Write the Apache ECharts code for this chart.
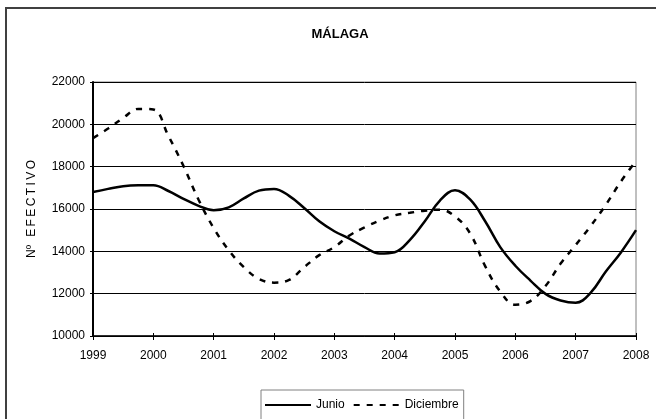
<!DOCTYPE html>
<html>
<head>
<meta charset="utf-8">
<script src="https://cdn.jsdelivr.net/npm/echarts@6/dist/echarts.min.js"></script>
<style>
  html, body { margin: 0; padding: 0; background: #ffffff; }
  #chart { width: 656px; height: 419px; }
</style>
</head>
<body>
<div id="chart"></div>
<script>
// Quarterly sample positions (years)
const periods = [
  1999, 1999.25, 1999.5, 1999.75,
  2000, 2000.25, 2000.5, 2000.75,
  2001, 2001.25, 2001.5, 2001.75,
  2002, 2002.25, 2002.5, 2002.75,
  2003, 2003.25, 2003.5, 2003.75,
  2004, 2004.25, 2004.5, 2004.75,
  2005, 2005.25, 2005.5, 2005.75,
  2006, 2006.25, 2006.5, 2006.75,
  2007, 2007.25, 2007.5, 2007.75,
  2008
];

// Nº efectivo, Junio
const junio = [
  16800, 16950, 17080, 17120,
  17120, 16850, 16480, 16150,
  15940, 16080, 16500, 16870,
  16950, 16620, 16050, 15420,
  14950, 14600, 14200, 13900,
  13960, 14530, 15420, 16400,
  16880, 16450, 15420, 14200,
  13320, 12620, 11990, 11680,
  11570, 12050, 13050, 13950,
  15000
];

// Nº efectivo, Diciembre
const diciembre = [
  19350, 19800, 20300, 20730,
  20700, 19450, 18030, 16440,
  15100, 14050, 13250, 12700,
  12520, 12650, 13250, 13820,
  14200, 14750, 15130, 15450,
  15700, 15820, 15920, 15970,
  15650, 14850, 13300, 12100,
  11480, 11650, 12360, 13420,
  14300, 15200, 16200, 17300,
  18270
];

const yearTicks = [1999, 2000, 2001, 2002, 2003, 2004, 2005, 2006, 2007, 2008];
const valueTicks = [10000, 12000, 14000, 16000, 18000, 20000, 22000];

const font = 'Liberation Sans, Arial, sans-serif';
const pair = (xs, ys) => xs.map((x, i) => [x, ys[i]]);
// spread the letters of the axis title a little
const spaced = s => Array.from(s).join('\u2009');

const chart = echarts.init(document.getElementById('chart'), null, { renderer: 'canvas' });

chart.setOption({
  animation: false,
  backgroundColor: '#ffffff',
  textStyle: { fontFamily: font, color: '#000000' },
  title: {
    text: 'MÁLAGA',
    left: 335,
    textAlign: 'center',
    top: 23,
    textStyle: { fontFamily: font, fontSize: 13, fontWeight: 'bold', color: '#000000' }
  },
  graphic: [{
    type: 'rect',
    silent: true,
    z: -1,
    shape: { x: 6, y: 8, width: 700, height: 500 },
    style: { fill: null, stroke: '#404040', lineWidth: 2 }
  }],
  legend: {
    left: 261,
    top: 390,
    itemWidth: 46,
    itemHeight: 14,
    itemGap: 8,
    padding: [9, 5, 9, 3],
    borderColor: '#808080',
    borderWidth: 1,
    itemStyle: { opacity: 0 },
    textStyle: { fontFamily: font, fontSize: 12, color: '#000000' },
    data: ['Junio', 'Diciembre']
  },
  grid: {
    left: 93, right: 20, top: 82, bottom: 83,
    show: true,
    borderColor: '#808080',
    borderWidth: 1,
    backgroundColor: 'transparent'
  },
  xAxis: [{
    type: 'value',
    min: yearTicks[0],
    max: yearTicks[yearTicks.length - 1],
    interval: 1,
    axisLine: { show: true, lineStyle: { color: '#000000', width: 1.5 } },
    axisTick: { show: true, inside: false, length: 4, lineStyle: { color: '#000000' } },
    axisLabel: {
      margin: 14, fontFamily: font, fontSize: 12, color: '#000000',
      formatter: v => String(v)
    },
    splitLine: { show: false }
  }, {
    // upward tick marks along the bottom axis
    type: 'value',
    position: 'top',
    offset: -254,
    min: yearTicks[0],
    max: yearTicks[yearTicks.length - 1],
    interval: 1,
    axisLine: { show: false },
    axisTick: { show: true, inside: false, length: 3, lineStyle: { color: '#000000' } },
    axisLabel: { show: false },
    splitLine: { show: false }
  }],
  yAxis: {
    type: 'value',
    min: valueTicks[0],
    max: valueTicks[valueTicks.length - 1],
    interval: 2000,
    name: 'Nº\u2009\u00a0\u2009' + spaced('EFECTIVO'),
    nameLocation: 'middle',
    nameGap: 55,
    nameTextStyle: { fontFamily: font, fontSize: 12, color: '#000000' },
    axisLine: { show: true, lineStyle: { color: '#000000', width: 2 } },
    axisTick: { show: true, inside: false, length: 3, lineStyle: { color: '#000000' } },
    axisLabel: {
      margin: 8, fontFamily: font, fontSize: 12, color: '#000000',
      formatter: v => String(v)
    },
    splitLine: { show: true, lineStyle: { color: '#000000', width: 1 } }
  },
  series: [{
    name: 'Junio',
    type: 'line',
    xAxisIndex: 0,
    data: pair(periods, junio),
    smooth: 0.4,
    symbol: 'none',
    color: '#000000',
    lineStyle: { color: '#000000', width: 2.5, type: 'solid' }
  }, {
    name: 'Diciembre',
    type: 'line',
    xAxisIndex: 0,
    data: pair(periods, diciembre),
    smooth: 0.4,
    symbol: 'none',
    color: '#000000',
    lineStyle: { color: '#000000', width: 2.5, type: [6, 7] }
  }]
});
</script>
</body>
</html>
